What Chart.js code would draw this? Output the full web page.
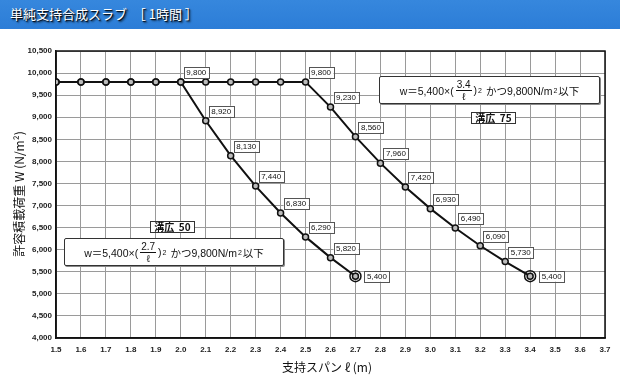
<!DOCTYPE html>
<html><head><meta charset="utf-8">
<script src="https://cdn.jsdelivr.net/npm/chart.js@4.4.1/dist/chart.umd.min.js"></script>
<style>
html,body{margin:0;padding:0;background:#fff;width:620px;height:380px;overflow:hidden;font-family:"Liberation Sans","Noto Sans CJK JP",sans-serif}
#bar{position:absolute;left:0;top:0;width:620px;height:29px;background:linear-gradient(#3687dd,#2c7dd7);}
#bar span{position:absolute;left:10px;top:6px;color:#fff;font-size:13px;line-height:16px;font-family:"Noto Sans CJK JP",sans-serif;text-shadow:1px 1px 1px #000,2px 2px 2px rgba(0,0,0,.6);white-space:pre}
#c{position:absolute;left:0;top:0}
.fbox{position:absolute;background:#fff;border:1.5px solid #333;border-radius:2px;box-sizing:border-box;font-size:10.5px;color:#111;display:flex;align-items:center;justify-content:center;white-space:nowrap;box-shadow:1px 1px 0 #888}
.frac{display:inline-flex;flex-direction:column;align-items:center;vertical-align:middle;line-height:11px;font-size:10px;margin:0 2px}
.frac .n{border-bottom:1px solid #111;padding:0 1px}
.name{position:absolute;background:#fff;border:1.5px solid #333;box-sizing:border-box;font-family:"Noto Sans CJK JP",sans-serif;font-weight:bold;font-size:10px;line-height:10px;color:#111;display:flex;align-items:center;justify-content:center;white-space:pre}
sup{font-size:7px;vertical-align:5px;margin:0 1px}
</style></head>
<body>
<div id="bar"><span>単純支持合成スラブ  ［ 1時間 ］</span></div>
<canvas id="c" width="620" height="380"></canvas>
<div class="fbox" style="left:379px;top:76px;width:221px;height:28px">w＝5,400×(<span class="frac"><span class="n">3.4</span><span>ℓ</span></span>)<sup>2</sup>&nbsp;かつ9,800N/m<sup>2</sup>以下</div>
<div class="name" style="left:471px;top:112px;width:45px;height:12px">溝広  75</div>
<div class="fbox" style="left:64px;top:238px;width:220px;height:28px">w＝5,400×(<span class="frac"><span class="n">2.7</span><span>ℓ</span></span>)<sup>2</sup>&nbsp;かつ9,800N/m<sup>2</sup>以下</div>
<div class="name" style="left:150px;top:221px;width:45px;height:12px">溝広  50</div>
<script>
const spans50 = [1.5,1.6,1.7,1.8,1.9,2.0,2.1,2.2,2.3,2.4,2.5,2.6,2.7];
const loads50 = [9800,9800,9800,9800,9800,9800,8920,8130,7440,6830,6290,5820,5400];
const spans75 = [1.5,1.6,1.7,1.8,1.9,2.0,2.1,2.2,2.3,2.4,2.5,2.6,2.7,2.8,2.9,3.0,3.1,3.2,3.3,3.4];
const loads75 = [9800,9800,9800,9800,9800,9800,9800,9800,9800,9800,9800,9230,8560,7960,7420,6930,6490,6090,5730,5400];
const labelFrom50 = 2.0;   // first span that carries a value label
const labelFrom75 = 2.5;
const xTickValues = [1.5,1.6,1.7,1.8,1.9,2.0,2.1,2.2,2.3,2.4,2.5,2.6,2.7,2.8,2.9,3.0,3.1,3.2,3.3,3.4,3.5,3.6,3.7];
const yTickValues = [4000,4500,5000,5500,6000,6500,7000,7500,8000,8500,9000,9500,10000,10500];
const yTitle = '許容積載荷重 W (N/m²)';
const xTitle = '支持スパン ℓ (m)';

const fmt = v => v.toLocaleString('en-US');
const FONT = '"Liberation Sans", Arial, sans-serif';

const labelPlugin = {
  id: 'labels',
  beforeDatasetsDraw(chart) {
    const {ctx, chartArea: a} = chart;
    ctx.save();
    ctx.strokeStyle = '#111';
    ctx.lineWidth = 1.5;
    ctx.strokeRect(a.left, a.top, a.right - a.left, a.bottom - a.top);
    ctx.restore();
  },
  afterDatasetsDraw(chart) {
    const ctx = chart.ctx;
    const sets = [[spans50, loads50, labelFrom50], [spans75, loads75, labelFrom75]];
    ctx.save();
    ctx.font = '8px ' + FONT;
    ctx.textBaseline = 'middle';
    ctx.textAlign = 'left';
    sets.forEach(([xs, ys, from], di) => {
      const meta = chart.getDatasetMeta(di);
      const last = xs.length - 1;
      const pe = meta.data[last];
      ctx.beginPath();
      ctx.arc(pe.x, pe.y, 5.5, 0, Math.PI * 2);
      ctx.strokeStyle = '#111'; ctx.lineWidth = 1.5; ctx.stroke();
      xs.forEach((x, i) => {
        if (x < from - 1e-9) return;
        const p = meta.data[i];
        const t = fmt(ys[i]);
        const w = ctx.measureText(t).width + 5, h = 11;
        let bx, by;
        if (i === last) { bx = p.x + 9; by = p.y - h / 2; }
        else { bx = p.x + 3; by = p.y - 4 - h; }
        ctx.fillStyle = '#fff';
        ctx.fillRect(bx, by, w, h);
        ctx.strokeStyle = '#555'; ctx.lineWidth = 1;
        ctx.strokeRect(Math.round(bx) + 0.5, Math.round(by) + 0.5, Math.round(w), h);
        ctx.fillStyle = '#111';
        ctx.fillText(t, bx + 2.5, by + h / 2 + 0.5);
      });
    });
    ctx.restore();
  },
  afterDraw(chart) {
    const ctx = chart.ctx;
    ctx.save();
    ctx.fillStyle = '#111';
    ctx.font = '12px "Noto Sans CJK JP", sans-serif';
    ctx.textAlign = 'center';
    ctx.textBaseline = 'middle';
    ctx.translate(19, 194);
    ctx.rotate(-Math.PI / 2);
    ctx.fillText(yTitle, 0, 0);
    ctx.restore();
    ctx.save();
    ctx.fillStyle = '#111';
    ctx.font = '12px "Noto Sans CJK JP", sans-serif';
    ctx.textAlign = 'center';
    ctx.textBaseline = 'middle';
    ctx.fillText(xTitle, 327, 367);
    ctx.restore();
  }
};

const mk = (xs, ys) => xs.map((x, i) => ({x, y: ys[i]}));
const ds = (xs, ys) => ({
  data: mk(xs, ys),
  borderColor: '#111', borderWidth: 2,
  pointRadius: 3, pointBackgroundColor: '#bbb', pointBorderColor: '#111', pointBorderWidth: 1.5,
  tension: 0, fill: false
});

new Chart(document.getElementById('c'), {
  type: 'line',
  data: { datasets: [ds(spans50, loads50), ds(spans75, loads75)] },
  options: {
    responsive: false, animation: false,
    layout: { padding: { top: 51, right: 15, left: 0, bottom: 0 } },
    plugins: { legend: { display: false }, tooltip: { enabled: false } },
    scales: {
      x: {
        type: 'linear', min: 1.5, max: 3.7,
        afterBuildTicks: s => { s.ticks = xTickValues.map(v => ({value: v})); },
        afterFit: s => { s.height = 42; },
        ticks: { callback: v => v.toFixed(1), font: { size: 8, weight: 'bold', family: FONT }, color: '#222', padding: 7, maxRotation: 0, autoSkip: false },
        grid: { color: '#9a9a9a', lineWidth: 1, drawTicks: false },
        border: { display: true, color: '#111', width: 1.5 }
      },
      y: {
        min: 4000, max: 10500,
        afterBuildTicks: s => { s.ticks = yTickValues.map(v => ({value: v})); },
        afterFit: s => { s.width = 56; },
        ticks: { callback: v => fmt(v), font: { size: 8, weight: 'bold', family: FONT }, color: '#222', padding: 4, autoSkip: false },
        grid: { color: '#9a9a9a', lineWidth: 1, drawTicks: false },
        border: { display: true, color: '#111', width: 1.5 }
      }
    }
  },
  plugins: [labelPlugin]
});
</script>
</body></html>
